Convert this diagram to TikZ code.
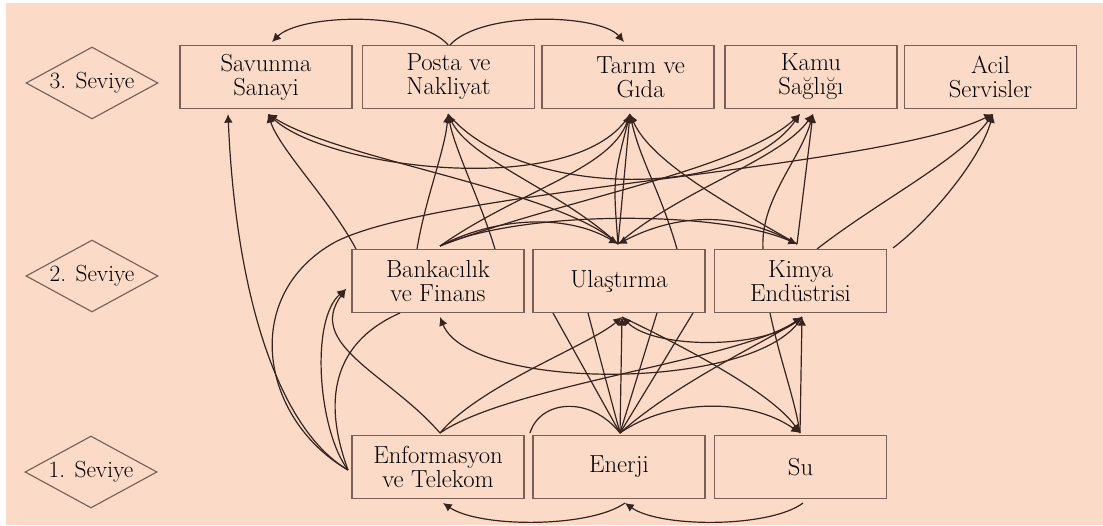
\documentclass[tikz,border=0pt]{standalone}
\usetikzlibrary{shapes.geometric,arrows.meta}
\definecolor{peach}{RGB}{251,219,199}
\definecolor{rim}{RGB}{120,96,86}
\definecolor{ink}{RGB}{55,36,30}

\begin{document}
\begin{tikzpicture}[x=0.75pt, y=-0.75pt,
        box/.style={rectangle, draw=rim, line width=0.95pt, fill=peach, minimum width=129pt, minimum height=47.5pt, align=center, inner sep=1pt, font=\fontsize{18.5}{18}\selectfont},
        level/.style={diamond, draw=rim, line width=0.85pt, aspect=1.8, minimum width=99pt, minimum height=54pt, inner sep=0pt, font=\fontsize{17.5}{18}\selectfont},
        link/.style={draw=ink, line width=0.9pt},
        tip/.style={link, -{Latex[length=6.5pt, width=6.5pt]}}]

                            \fill[white] (0, 0) rectangle (1103, 525);
                            \fill[peach] (6, 3) rectangle (1103, 525);
                            \useasboundingbox (0, 0) rectangle (1103, 525);

                            % arrow ends under the third level
                            \coordinate (s1) at (228, 114);
                            \coordinate (s2) at (268, 114);
                            \coordinate (p) at (448, 114);
                            \coordinate (t) at (630, 114);
                            \coordinate (k1) at (800, 114);
                            \coordinate (k2) at (813, 114);
                            \coordinate (a) at (993, 114);
                            \coordinate (sN) at (272, 42);
                            \coordinate (pN) at (449, 46);
                            \coordinate (tN) at (624, 42);

                            % second level
                            \coordinate (bTL) at (356, 249);
                            \coordinate (bTa) at (417, 249);
                            \coordinate (bT) at (440, 246);
                            \coordinate (bTR) at (495, 249);
                            \coordinate (uT) at (618, 244);
                            \coordinate (uTR) at (677, 249);
                            \coordinate (kTL) at (763, 249);
                            \coordinate (kT) at (797, 244);
                            \coordinate (kT2) at (817, 249);
                            \coordinate (kR) at (893, 248);
                            \coordinate (bL) at (346, 289);
                            \coordinate (bB) at (440, 317);
                            \coordinate (bB2) at (400, 313);
                            \coordinate (u1) at (553, 313);
                            \coordinate (u2) at (588, 313);
                            \coordinate (uB) at (622, 317);
                            \coordinate (u3) at (657, 313);
                            \coordinate (u4) at (693, 313);
                            \coordinate (kBL) at (770, 313);
                            \coordinate (kB) at (802, 317);

                            % first level
                            \coordinate (eT) at (440, 433);
                            \coordinate (nT) at (620, 433);
                            \coordinate (sT) at (800, 433);
                            \coordinate (eL) at (348, 470);
                            \coordinate (eR) at (530, 433);
                            \coordinate (eB) at (443, 503);
                            \coordinate (nB) at (625, 503);
                            \coordinate (sB) at (803, 503);

                            % third level among itself
                            \draw[tip] (pN) .. controls (420, 10) and (300, 14) .. (sN);
                            \draw[tip] (pN) .. controls (480, 10) and (600, 14) .. (tN);
                            \draw[tip] (t) .. controls (580, 200) and (330, 170) .. (s2);
                            \draw[tip] (p) .. controls (520, 200) and (740, 200) .. (k1);

                            % second level up to third level
                            \draw[tip] (bTL) .. controls (330, 200) and (280, 150) .. (s2);
                            \draw[tip] (uT) .. controls (560, 190) and (340, 160) .. (s2);
                            \draw[tip] (bTa) .. controls (425, 200) and (445, 150) .. (p);
                            \draw[tip] (bTR) .. controls (480, 200) and (455, 150) .. (p);
                            \draw[tip] (uT) .. controls (560, 190) and (470, 160) .. (p);
                            \draw[tip] (bT) .. controls (520, 190) and (610, 170) .. (t);
                            \draw[tip] (uT) -- (t);
                            \draw[tip] (uT) .. controls (613, 180) .. (t);
                            \draw[tip] (kT) .. controls (720, 200) and (650, 160) .. (t);
                            \draw[tip] (uTR) .. controls (660, 190) and (640, 160) .. (t);
                            \draw[tip] (bT) .. controls (560, 200) and (740, 170) .. (k1);
                            \draw[tip] (uT) .. controls (680, 190) and (780, 160) .. (k2);
                            \draw[tip] (kT) -- (k2);
                            \draw[tip] (kTL) .. controls (760, 200) and (800, 160) .. (k2);
                            \draw[tip] (kT2) .. controls (880, 200) and (960, 160) .. (a);
                            \draw[tip] (kR) .. controls (930, 220) and (980, 160) .. (a);

                            % second level among itself
                            \draw[tip] (bT) .. controls (520, 210) and (720, 210) .. (kT);
                            \draw[tip] (bT) .. controls (500, 215) and (570, 215) .. (uT);
                            \draw[tip] (kT) .. controls (740, 212) and (680, 212) .. (uT);
                            \draw[tip] (kB) .. controls (770, 350) and (655, 350) .. (uB);
                            \draw[tip] (kB) .. controls (760, 392) and (470, 392) .. (bB);

                            % first level up
                            \draw[tip] (eL) .. controls (280, 430) and (236, 300) .. (s1);
                            \draw[tip] (eL) .. controls (262, 420) and (240, 300) .. (330, 245) .. controls (420, 190) and (880, 170) .. (a);
                            \draw[tip] (eL) .. controls (318, 430) and (310, 320) .. (bL);
                            \draw[link] (eL) .. controls (315, 380) and (350, 335) .. (bB2);
                            \draw[tip] (eT) .. controls (390, 375) and (305, 345) .. (bL);
                            \draw[tip] (eT) .. controls (480, 385) and (590, 345) .. (uB);
                            \draw[tip] (eT) .. controls (510, 385) and (740, 360) .. (kB);
                            \draw[tip] (nT) -- (uB);
                            \draw[link] (nT) -- (u1);
                            \draw[link] (nT) -- (u2);
                            \draw[link] (nT) -- (u3);
                            \draw[link] (nT) -- (u4);
                            \draw[tip] (nT) .. controls (680, 380) and (770, 340) .. (kB);
                            \draw[tip] (uB) .. controls (670, 340) and (770, 390) .. (sT);
                            \draw[link] (kBL) .. controls (780, 360) and (795, 400) .. (sT);
                            \draw[tip] (sT) -- (kB);

                            % first level among itself
                            \draw[tip] (nT) .. controls (670, 398) and (750, 398) .. (sT);
                            \draw[link] (eR) .. controls (540, 400) and (590, 395) .. (nT);
                            \draw[tip] (nB) .. controls (590, 528) and (480, 528) .. (eB);
                            \draw[tip] (sB) .. controls (770, 528) and (660, 528) .. (nB);

                            % boxes
                            \node (L3)[level] at (92, 83) {3. Seviye};
                            \node (L2)[level] at (92, 276) {2. Seviye};
                            \node (L1)[level] at (91, 472) {1. Seviye};

                            \node (SS)[box] at (266, 77) {Savunma\\Sanayi};
                            \node (PN)[box] at (448.5, 77) {Posta ve\\Nakliyat};
                            \node (TG)[box] at (628, 77) {\hspace*{19pt}Tarım ve\\\hspace*{19pt}Gıda};
                            \node (KS)[box] at (811, 77) {Kamu\\Sağlığı};
                            \node (AS)[box] at (990.5, 77) {Acil\\Servisler};

                            \node (BF)[box] at (438, 281) {Bankacılık\\ve Finans};
                            \node (UL)[box] at (619, 281) {Ulaştırma};
                            \node (KE)[box] at (800.5, 281) {Kimya\\Endüstrisi};

                            \node (ET)[box] at (438, 467) {Enformasyon\\ve Telekom};
                            \node (EN)[box] at (619, 467) {Enerji};
                            \node (SU)[box] at (800.5, 467) {Su};

                        \end{tikzpicture}
\end{document}
